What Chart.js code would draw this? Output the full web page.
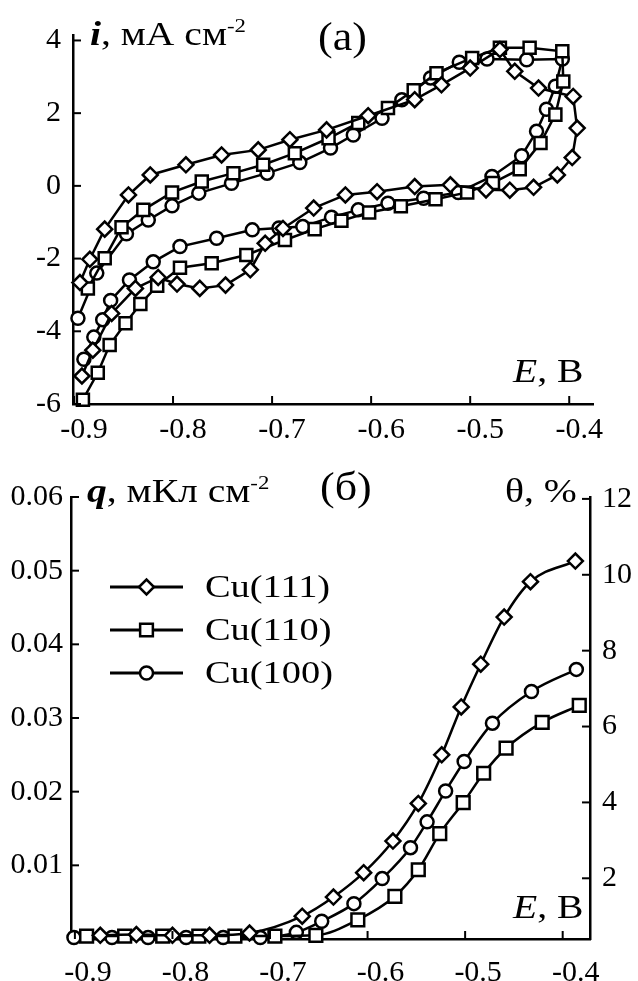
<!DOCTYPE html>
<html>
<head>
<meta charset="utf-8">
<script src="https://cdn.jsdelivr.net/npm/chart.js@4.4.0/dist/chart.umd.min.js"></script>
<style>
  html, body { margin: 0; padding: 0; background: #fff; }
  #wrap { position: relative; width: 638px; height: 981px; overflow: hidden; }
  canvas { position: absolute; left: 0; }
</style>
</head>
<body>
<div id="wrap">
  <canvas id="grafA" width="638" height="440" style="top:0"></canvas>
  <canvas id="grafB" width="638" height="541" style="top:440px"></canvas>
</div>
<script>
// (а) циклические вольтамперограммы: E, В и i, мА/см2 в порядке развертки
const eA111 = [-0.894,-0.884,-0.869,-0.845,-0.823,-0.787,-0.751,-0.714,-0.682,-0.645,-0.603,-0.556,-0.529,-0.500,-0.470,-0.455,-0.431,-0.396,-0.392,-0.397,-0.412,-0.436,-0.460,-0.484,-0.520,-0.556,-0.594,-0.626,-0.658,-0.689,-0.707,-0.722,-0.747,-0.773,-0.796,-0.815,-0.838,-0.862,-0.881,-0.892];
const iA111 = [-2.66,-2.02,-1.19,-0.25,0.30,0.58,0.85,0.99,1.27,1.54,1.93,2.37,2.78,3.24,3.75,3.15,2.69,2.46,1.59,0.78,0.30,-0.04,-0.12,-0.11,0.03,-0.02,-0.16,-0.25,-0.61,-1.17,-1.58,-2.31,-2.73,-2.82,-2.70,-2.52,-2.82,-3.51,-4.52,-5.23];

const eA110 = [-0.886,-0.869,-0.852,-0.830,-0.801,-0.771,-0.739,-0.709,-0.677,-0.643,-0.613,-0.583,-0.557,-0.534,-0.498,-0.470,-0.440,-0.407,-0.406,-0.414,-0.429,-0.450,-0.477,-0.503,-0.535,-0.570,-0.602,-0.630,-0.657,-0.687,-0.726,-0.761,-0.793,-0.816,-0.833,-0.848,-0.864,-0.876,-0.891];
const iA110 = [-2.82,-1.99,-1.14,-0.66,-0.18,0.12,0.35,0.58,0.90,1.31,1.73,2.14,2.63,3.10,3.52,3.80,3.80,3.70,2.87,1.96,1.18,0.46,0.08,-0.18,-0.37,-0.56,-0.73,-0.96,-1.19,-1.49,-1.90,-2.13,-2.25,-2.75,-3.25,-3.78,-4.38,-5.14,-5.88];

const eA100 = [-0.896,-0.877,-0.847,-0.825,-0.801,-0.774,-0.741,-0.705,-0.672,-0.641,-0.618,-0.589,-0.569,-0.540,-0.511,-0.483,-0.443,-0.407,-0.414,-0.423,-0.433,-0.448,-0.478,-0.512,-0.547,-0.583,-0.613,-0.640,-0.669,-0.693,-0.720,-0.756,-0.793,-0.820,-0.844,-0.863,-0.871,-0.880,-0.890];
const iA100 = [-3.64,-2.40,-1.32,-0.94,-0.55,-0.20,0.07,0.35,0.64,1.04,1.40,1.86,2.37,2.97,3.40,3.49,3.47,3.49,2.74,2.11,1.50,0.83,0.26,-0.18,-0.34,-0.48,-0.66,-0.86,-1.12,-1.16,-1.21,-1.44,-1.67,-2.09,-2.59,-3.15,-3.68,-4.16,-4.77];

// (б) заряд q, мКл/см2
const eB111 = [-0.874,-0.837,-0.800,-0.762,-0.721,-0.667,-0.635,-0.604,-0.574,-0.548,-0.524,-0.504,-0.484,-0.460,-0.433,-0.387];
const qB111 = [0.0005,0.0006,0.0005,0.0005,0.0008,0.0031,0.0057,0.0090,0.0133,0.0184,0.0250,0.0315,0.0373,0.0437,0.0485,0.0513];
const eB110 = [-0.888,-0.849,-0.810,-0.773,-0.736,-0.695,-0.653,-0.610,-0.572,-0.548,-0.526,-0.502,-0.481,-0.458,-0.421,-0.383];
const qB110 = [0.0004,0.0004,0.0004,0.0004,0.0004,0.0004,0.0005,0.0026,0.0058,0.0094,0.0143,0.0185,0.0225,0.0259,0.0294,0.0317];
const eB100 = [-0.901,-0.862,-0.825,-0.786,-0.748,-0.710,-0.673,-0.647,-0.614,-0.585,-0.556,-0.539,-0.520,-0.501,-0.472,-0.432,-0.386];
const qB100 = [0.0002,0.0002,0.0002,0.0002,0.0002,0.0002,0.0009,0.0024,0.0048,0.0082,0.0124,0.0159,0.0201,0.0241,0.0293,0.0336,0.0366];

const nomes = ['Cu(111)', 'Cu(110)', 'Cu(100)'];
const ticksE = [-0.9, -0.8, -0.7, -0.6, -0.5, -0.4];
const ticksI = [-6, -4, -2, 0, 2, 4];
const ticksQ = [0.01, 0.02, 0.03, 0.04, 0.05, 0.06];
const ticksTheta = [2, 4, 6, 8, 10, 12];

const serif = "'Liberation Serif', 'Times New Roman', serif";
const estilos = ['rectRot', 'rect', 'circle'];

function pontos(xs, ys) {
    return xs.map((x, k) => ({ x: x, y: ys[k] }));
}

function serie(k, xs, ys, raio, suave) {
    return {
        label: nomes[k],
        data: pontos(xs, ys),
        showLine: true,
        borderColor: '#000',
        borderWidth: 2.5,
        tension: suave ? 0.4 : 0,
        cubicInterpolationMode: suave ? 'monotone' : 'default',
        pointStyle: estilos[k],
        pointRadius: raio,
        pointHoverRadius: raio,
        pointBackgroundColor: '#fff',
        pointBorderColor: '#000',
        pointBorderWidth: 2.5,
        clip: false
    };
}

function eixo(o) {
    return {
        type: 'linear',
        position: o.position,
        min: o.min,
        max: o.max,
        grid: { display: false, drawTicks: false },
        border: { display: true, color: '#000', width: 2.5 },
        ticks: {
            color: '#000',
            font: { family: serif, size: 30 },
            padding: o.padding,
            labelOffset: o.labelOffset || 0,
            callback: v => v.toFixed(o.digits)
        },
        afterBuildTicks: s => { s.ticks = o.values.map(v => ({ value: v })); },
        afterFit: s => {
            if (o.position === 'bottom') s.height = o.size; else s.width = o.size;
        }
    };
}

// tick marks pointing into the plot
const ticksDentro = {
    id: 'ticksDentro',
    afterDatasetsDraw(chart) {
        const ctx = chart.ctx;
        ctx.save();
        ctx.strokeStyle = '#000';
        ctx.lineWidth = 2;
        Object.values(chart.scales).forEach(s => {
            s.ticks.forEach(t => {
                const p = s.getPixelForValue(t.value);
                ctx.beginPath();
                if (s.axis === 'x') { ctx.moveTo(p, s.top); ctx.lineTo(p, s.top - 8); }
                else if (s.position === 'left') { ctx.moveTo(s.right, p); ctx.lineTo(s.right + 8, p); }
                else { ctx.moveTo(s.left, p); ctx.lineTo(s.left - 8, p); }
                ctx.stroke();
            });
        });
        ctx.restore();
    }
};

function escrever(ctx, x, y, partes, tam, esticar) {
    ctx.save();
    ctx.translate(x, y);
    ctx.scale(esticar, 1);
    ctx.fillStyle = '#000';
    ctx.textBaseline = 'alphabetic';
    let cx = 0;
    partes.forEach(p => {
        ctx.font = (p.style || '') + ' ' + (p.size || tam) + 'px ' + serif;
        ctx.fillText(p.t, cx, p.dy || 0);
        cx += ctx.measureText(p.t).width;
    });
    ctx.restore();
}

const notas = {
    id: 'notas',
    afterDraw(chart, args, opts) {
        (opts.items || []).forEach(it => escrever(chart.ctx, it.x, it.y, it.parts, it.size, it.stretch || 1.2));
    }
};

// legend: line + marker + name
const legenda = {
    id: 'legenda',
    afterDraw(chart, args, opts) {
        if (!opts.rows) return;
        const ctx = chart.ctx;
        chart.data.datasets.forEach((ds, k) => {
            const y = opts.rows[k];
            ctx.save();
            ctx.strokeStyle = '#000';
            ctx.lineWidth = 3;
            ctx.beginPath();
            ctx.moveTo(opts.x0, y);
            ctx.lineTo(opts.x1, y);
            ctx.stroke();
            ctx.fillStyle = '#fff';
            ctx.lineWidth = 2.5;
            Chart.helpers.drawPoint(ctx, { pointStyle: ds.pointStyle, radius: ds.pointRadius, borderWidth: 2.5, rotation: 0 }, (opts.x0 + opts.x1) / 2, y);
            ctx.restore();
            escrever(ctx, opts.xt, y + 10, [{ t: ds.label }], 32, 1.2);
        });
    }
};

new Chart(document.getElementById('grafA'), {
    type: 'scatter',
    data: {
        datasets: [
            serie(0, eA111, iA111, 7.5, false),
            serie(1, eA110, iA110, 8.5, false),
            serie(2, eA100, iA100, 6.5, false)
        ]
    },
    options: {
        responsive: false,
        animation: false,
        events: [],
        layout: { padding: { left: 0, top: 35, right: 45, bottom: 0 } },
        plugins: {
            legend: { display: false },
            tooltip: { enabled: false },
            notas: {
                items: [
                    { x: 90, y: 45, size: 33, parts: [{ t: 'i', style: 'italic bold' }, { t: ', мА см' }, { t: '-2', size: 19, dy: -13 }] },
                    { x: 318, y: 50, size: 40, stretch: 1.1, parts: [{ t: '(a)' }] },
                    { x: 513, y: 382, size: 33, parts: [{ t: 'E', style: 'italic' }, { t: ', В' }] }
                ]
            }
        },
        scales: {
            x: eixo({ position: 'bottom', min: -0.901, max: -0.376, values: ticksE, digits: 1, size: 36, padding: 8, labelOffset: 10 }),
            y: eixo({ position: 'left', min: -6, max: 4.15, values: ticksI, digits: 0, size: 73, padding: 12 })
        }
    },
    plugins: [ticksDentro, notas]
});

new Chart(document.getElementById('grafB'), {
    type: 'scatter',
    data: {
        datasets: [
            serie(0, eB111, qB111, 7.5, true),
            serie(1, eB110, qB110, 9, true),
            serie(2, eB100, qB100, 6.5, true)
        ]
    },
    options: {
        responsive: false,
        animation: false,
        events: [],
        layout: { padding: { left: 0, top: 57, right: 0, bottom: 0 } },
        plugins: {
            legend: { display: false },
            tooltip: { enabled: false },
            legenda: { x0: 110, x1: 183, xt: 205, rows: [147, 190, 233] },
            notas: {
                items: [
                    { x: 87, y: 62, size: 33, parts: [{ t: 'q', style: 'italic bold' }, { t: ', мКл см' }, { t: '-2', size: 19, dy: -13 }] },
                    { x: 320, y: 60, size: 40, stretch: 1.1, parts: [{ t: '(б)' }] },
                    { x: 505, y: 62, size: 33, parts: [{ t: 'θ, %' }] },
                    { x: 513, y: 478, size: 33, parts: [{ t: 'E', style: 'italic' }, { t: ', В' }] }
                ]
            }
        },
        scales: {
            x: eixo({ position: 'bottom', min: -0.904, max: -0.372, values: ticksE, digits: 1, size: 42, padding: 16, labelOffset: 13 }),
            y: eixo({ position: 'left', min: 0, max: 0.06, values: ticksQ, digits: 2, size: 71, padding: 8 }),
            y2: eixo({ position: 'right', min: 0.4, max: 12.05, values: ticksTheta, digits: 0, size: 48, padding: 12 })
        }
    },
    plugins: [ticksDentro, notas, legenda]
});
</script>
</body>
</html>
